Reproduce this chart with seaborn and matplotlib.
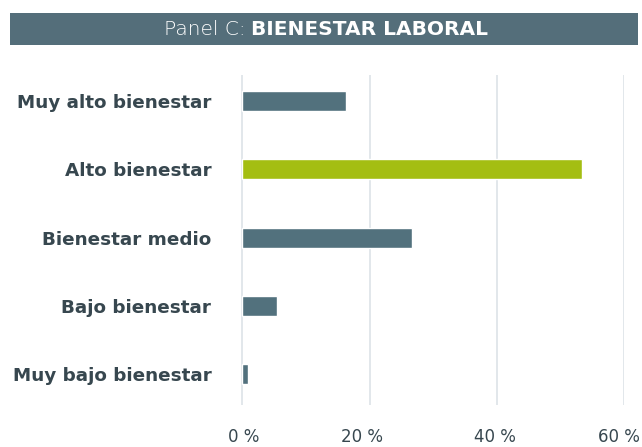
import matplotlib.pyplot as plt
import matplotlib.patches as mpatches
import matplotlib.transforms as mtransforms
import seaborn as sns
import pandas as pd

categorias = ["Muy alto bienestar", "Alto bienestar", "Bienestar medio",
              "Bajo bienestar", "Muy bajo bienestar"]
porcentajes = [16.3, 53.4, 26.7, 5.4, 0.9]
destacado = ["no", "si", "no", "no", "no"]
ticks = [0, 20, 40, 60]
tick_labels = ["0 %", "20 %", "40 %", "60 %"]

df = pd.DataFrame({"categoria": categorias, "pct": porcentajes, "grupo": destacado})

sns.set_theme(style="white")
plt.rcParams["font.family"] = ["DejaVu Sans"]

fig = plt.figure(figsize=(6.42, 4.47), dpi=100)
ax = fig.add_axes([0.3745, 0.094, 0.9725 - 0.3745, 0.738])

sns.barplot(data=df, y="categoria", x="pct", hue="grupo", orient="h",
            palette={"no": "#52717d", "si": "#a4be12"}, width=0.29,
            dodge=False, legend=False, ax=ax, saturation=1)

ax.set_xlim(-0.3, 60)
ax.set_ylim(4.45, -0.38)
ax.set_xticks(ticks)
ax.set_xticklabels([])
ax.tick_params(axis="x", length=0)
ax.tick_params(axis="y", length=0, pad=21)
for lbl in ax.get_yticklabels():
    lbl.set_fontweight("bold")
    lbl.set_fontsize(13.2)
    lbl.set_color("#37474f")

# etiquetas del eje x dibujadas a mano (desplazamientos en píxeles como el original)
desplaz = [1, -8, -2, -5]
for t, txt, dx in zip(ticks, tick_labels, desplaz):
    tr = ax.get_xaxis_transform() + mtransforms.ScaledTranslation(dx / 100, 0, fig.dpi_scale_trans)
    ax.text(t, -0.097, txt, transform=tr, ha="center", va="center",
            fontsize=12, color="#37474f", clip_on=False)

ax.grid(axis="x", color="#dde3e7", linewidth=1.2)
ax.set_axisbelow(True)
sns.despine(ax=ax, left=True, bottom=True)
ax.set_xlabel("")
ax.set_ylabel("")

# banner de título
fig.patches.append(mpatches.Rectangle((10 / 642, 1 - 45 / 447), 628 / 642, 32 / 447,
                                      transform=fig.transFigure, facecolor="#546e7a",
                                      edgecolor="none"))
fig.text(246 / 642, 1 - 29.5 / 447, "Panel C:", ha="right", va="center",
         color="white", fontsize=14.5, fontweight=200)
fig.text(251 / 642, 1 - 29.5 / 447, "BIENESTAR LABORAL", ha="left", va="center",
         color="white", fontsize=14.5, fontweight="bold")

fig.savefig("out.png", dpi=100)
